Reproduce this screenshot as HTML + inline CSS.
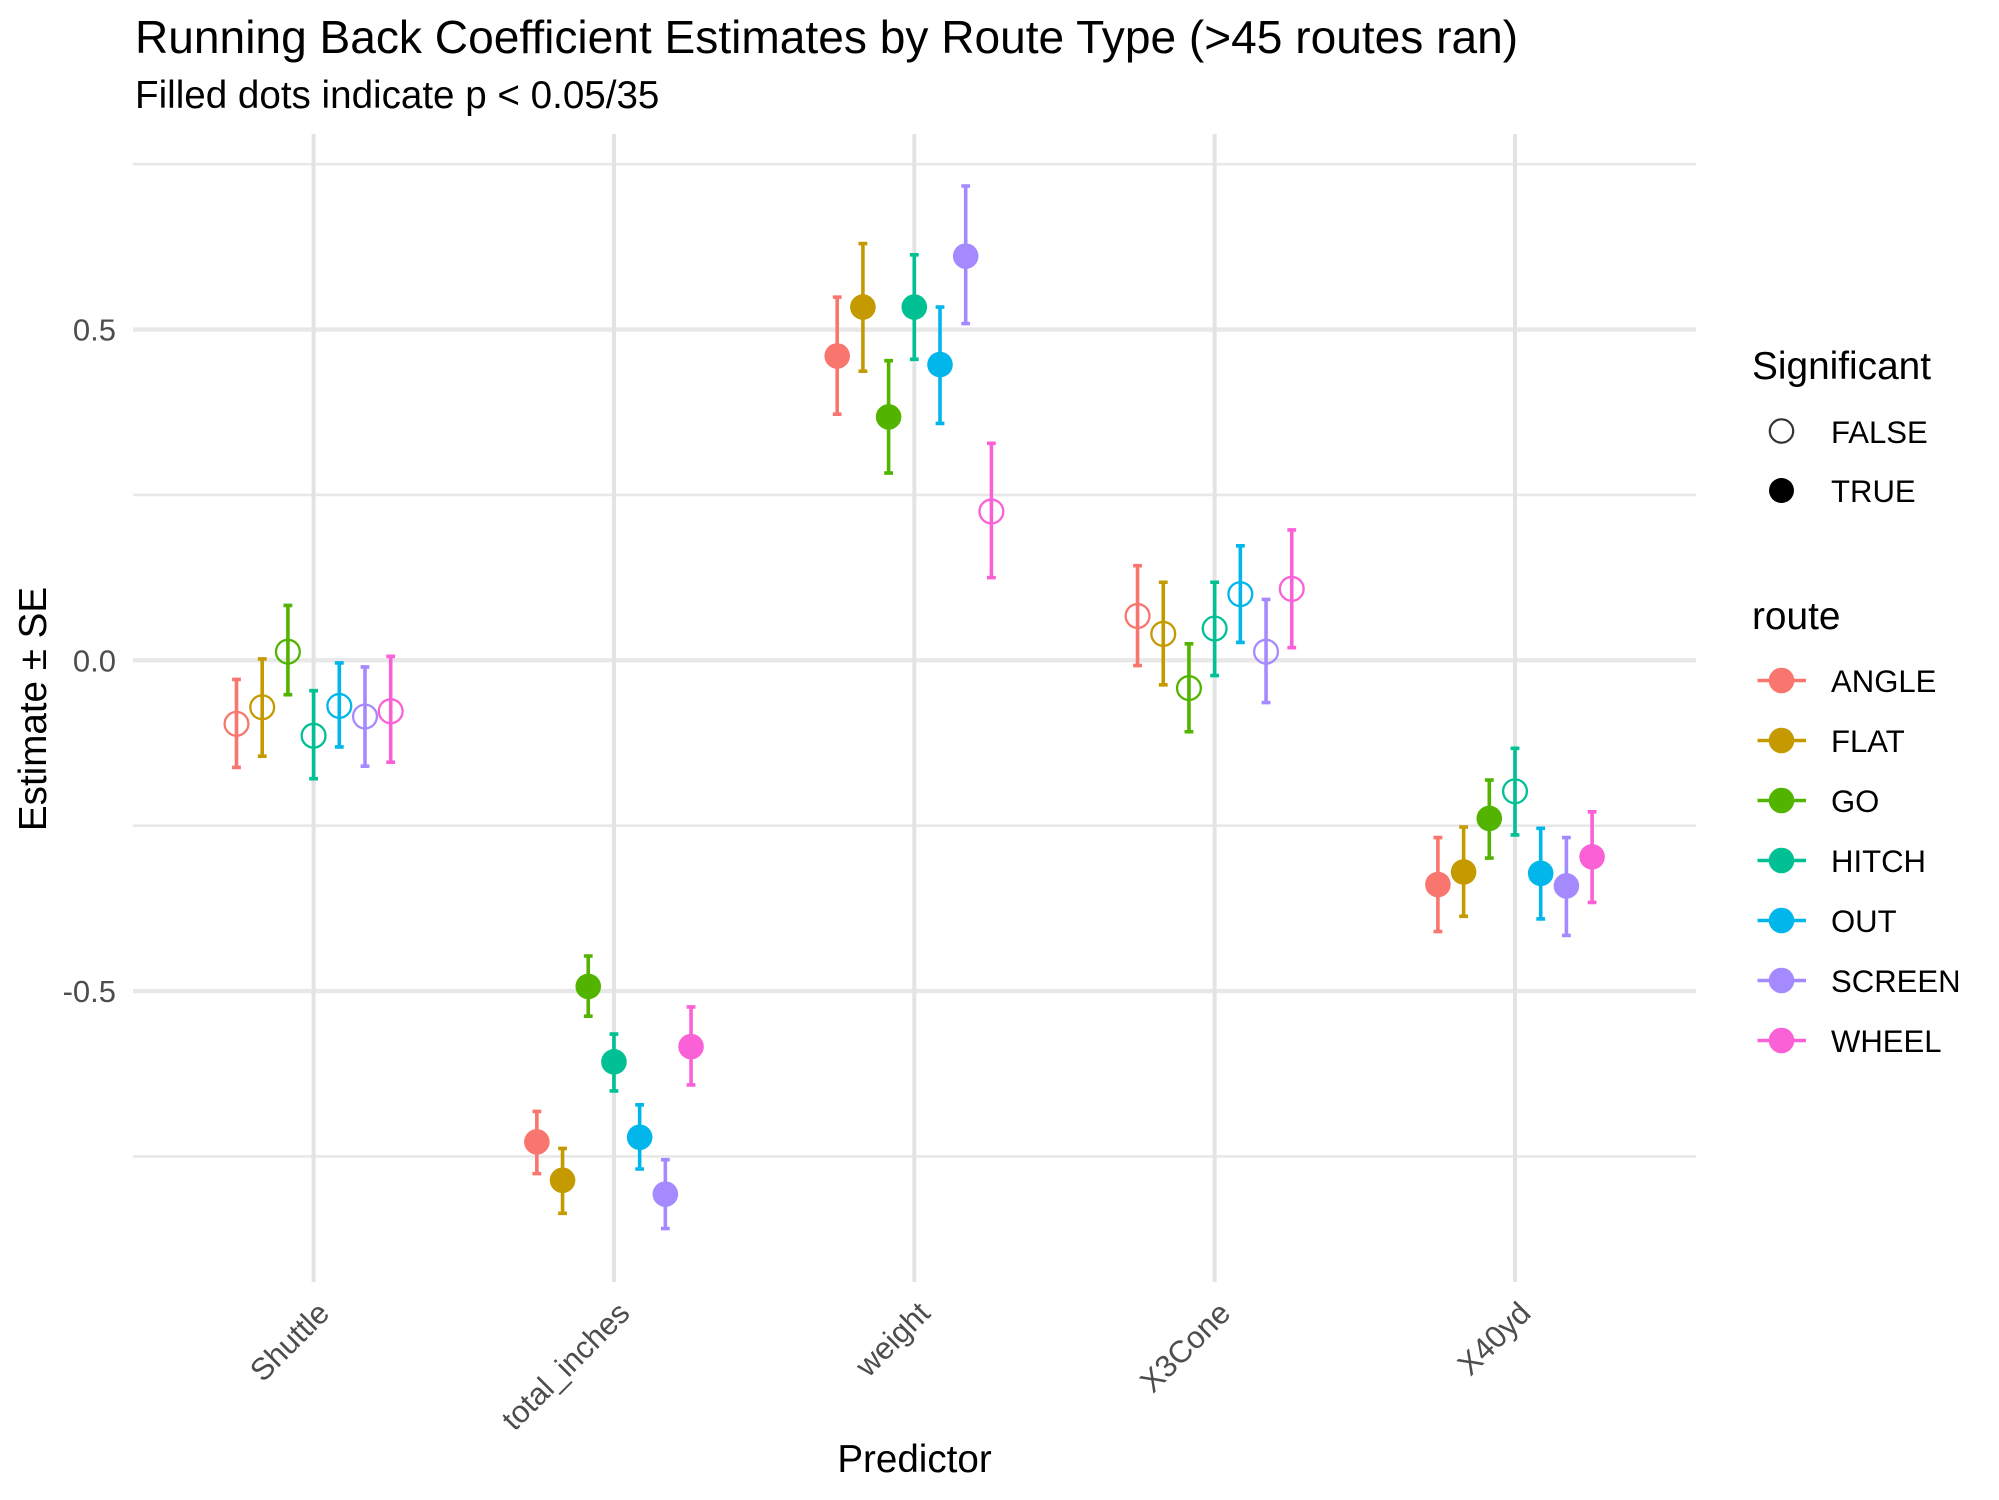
<!DOCTYPE html>
<html lang="en">
<head>
<meta charset="utf-8">
<title>Running Back Coefficient Estimates by Route Type</title>
<style>
  html, body { margin: 0; padding: 0; background: #fff; }
  svg { display: block; font-family: "Liberation Sans", Arial, sans-serif; }
</style>
</head>
<body>
<svg id="chart" xmlns="http://www.w3.org/2000/svg" width="1999" height="1500" viewBox="0 0 1999 1500">
  <rect x="0" y="0" width="1999" height="1500" fill="#ffffff"/>
  <text x="135" y="53" font-size="46.1" fill="#000">Running Back Coefficient Estimates by Route Type (&gt;45 routes ran)</text>
  <text x="135" y="108" font-size="38.6" fill="#000">Filled dots indicate p &lt; 0.05/35</text>
  <g id="grid"></g>
  <g id="yticks"></g>
  <g id="xticks"></g>
  <g id="marks"></g>
  <text transform="translate(46,709) rotate(-90)" text-anchor="middle" font-size="38.6" fill="#000">Estimate ± SE</text>
  <text x="914.5" y="1472" text-anchor="middle" font-size="38.6" fill="#000">Predictor</text>

  <g>
    <text x="1752" y="379" font-size="38.8" fill="#000">Significant</text>
    <circle cx="1781.5" cy="431" r="11.7" fill="none" stroke="#333" stroke-width="2.2"/>
    <text x="1831" y="443" font-size="31.1" fill="#000">FALSE</text>
    <circle cx="1781.5" cy="490.5" r="12.5" fill="#000"/>
    <text x="1831" y="502" font-size="31.1" fill="#000">TRUE</text>
  </g>
  <g id="route-legend">
    <text x="1752" y="629" font-size="38.8" fill="#000">route</text>
  </g>
</svg>
<script>
const predictors = ["Shuttle", "total_inches", "weight", "X3Cone", "X40yd"];
const routes = ["ANGLE", "FLAT", "GO", "HITCH", "OUT", "SCREEN", "WHEEL"];
const routeColors = ["#F8766D", "#C49A00", "#53B400", "#00C094", "#00B6EB", "#A58AFF", "#FB61D7"];
const yMajorTicks = [0.5, 0, -0.5];
const yMajorLabels = ["0.5", "0.0", "-0.5"];
const yMinorTicks = [0.75, 0.25, -0.25, -0.75];

/* One row per predictor, one column per route */
const estimates = [
  [-0.096, -0.071, 0.013, -0.114, -0.069, -0.085, -0.077],
  [-0.728, -0.786, -0.493, -0.607, -0.721, -0.807, -0.584],
  [0.460, 0.534, 0.368, 0.534, 0.447, 0.611, 0.225],
  [0.067, 0.040, -0.042, 0.048, 0.100, 0.013, 0.108],
  [-0.339, -0.320, -0.239, -0.198, -0.322, -0.341, -0.297]
];
const upperBounds = [
  [-0.029, 0.002, 0.083, -0.046, -0.004, -0.010, 0.006],
  [-0.682, -0.738, -0.447, -0.565, -0.672, -0.755, -0.524],
  [0.549, 0.630, 0.453, 0.613, 0.534, 0.717, 0.328],
  [0.143, 0.118, 0.025, 0.118, 0.173, 0.092, 0.197],
  [-0.268, -0.252, -0.181, -0.133, -0.254, -0.268, -0.229]
];
const lowerBounds = [
  [-0.162, -0.145, -0.052, -0.179, -0.131, -0.160, -0.154],
  [-0.776, -0.836, -0.538, -0.651, -0.769, -0.859, -0.642],
  [0.372, 0.437, 0.283, 0.455, 0.358, 0.509, 0.125],
  [-0.008, -0.037, -0.108, -0.023, 0.027, -0.064, 0.019],
  [-0.410, -0.387, -0.299, -0.264, -0.391, -0.416, -0.366]
];
const significant = [
  [false, false, false, false, false, false, false],
  [true, true, true, true, true, true, true],
  [true, true, true, true, true, true, false],
  [false, false, false, false, false, false, false],
  [true, true, true, false, true, true, true]
];

const NS = "http://www.w3.org/2000/svg";
const panelLeft = 133, panelRight = 1696, panelTop = 134, panelBottom = 1282;
const xScale = function (predictorIndex) { return 313.6 + 300.35 * predictorIndex; };
const dodge = function (routeIndex) { return (routeIndex - (routes.length - 1) / 2) * 25.7; };
const yScale = function (v) { return 660.3 - 661.5 * v; };

function make(tag, attrs, parent) {
  const el = document.createElementNS(NS, tag);
  for (const k in attrs) el.setAttribute(k, attrs[k]);
  parent.appendChild(el);
  return el;
}

const grid = document.getElementById("grid");
yMinorTicks.forEach(function (v) {
  const el = make("line", { x1: panelLeft, x2: panelRight, y1: yScale(v), y2: yScale(v), stroke: "#e8e8e8", "stroke-width": 2.6 }, grid);
  
  
});
yMajorTicks.forEach(function (v) {
  const el = make("line", { x1: panelLeft, x2: panelRight, y1: yScale(v), y2: yScale(v), stroke: "#e8e8e8", "stroke-width": 4.4 }, grid);
  
  
});
predictors.forEach(function (p, i) {
  const el = make("line", { x1: xScale(i), x2: xScale(i), y1: panelTop, y2: panelBottom, stroke: "#e3e3e3", "stroke-width": 4 }, grid);
  
  
});

const yTickGroup = document.getElementById("yticks");
yMajorTicks.forEach(function (v, i) {
  const t = make("text", { x: 116, y: yScale(v) + 11, "text-anchor": "end", "font-size": 31, fill: "#4d4d4d" }, yTickGroup);
  t.textContent = yMajorLabels[i];
  
  
});

const xTickGroup = document.getElementById("xticks");
predictors.forEach(function (p, i) {
  const t = make("text", { transform: "translate(" + (xScale(i) + 17.5) + ",1315) rotate(-45)", "text-anchor": "end", "font-size": 31, fill: "#4d4d4d" }, xTickGroup);
  t.textContent = p;
  
  
});

const marks = document.getElementById("marks");
routes.forEach(function (route, r) {
  const color = routeColors[r];
  const group = make("g", {}, marks);
  
  
  predictors.forEach(function (p, i) {
    const x = xScale(i) + dodge(r);
    const yHi = yScale(upperBounds[i][r]);
    const yLo = yScale(lowerBounds[i][r]);
    const yEst = yScale(estimates[i][r]);
    const bar = make("path", {
      d: "M" + (x - 4.4) + " " + yHi + "H" + (x + 4.4) + "M" + x + " " + yHi + "V" + yLo + "M" + (x - 4.4) + " " + yLo + "H" + (x + 4.4),
      stroke: color, "stroke-width": 3.6, fill: "none"
    }, group);
    
    
    const filled = significant[i][r];
    const dot = make("circle", filled
      ? { cx: x, cy: yEst, r: 12.8, fill: color }
      : { cx: x, cy: yEst, r: 11.9, fill: "none", stroke: color, "stroke-width": 2.3 }, group);
    
    
  });
});

const routeLegend = document.getElementById("route-legend");
routes.forEach(function (route, r) {
  const cy = 680.5 + r * 60;
  const line = make("line", { x1: 1757.5, x2: 1806, y1: cy, y2: cy, stroke: routeColors[r], "stroke-width": 3.6 }, routeLegend);
  
  
  const dot = make("circle", { cx: 1781.5, cy: cy, r: 12.8, fill: routeColors[r] }, routeLegend);
  
  
  const label = make("text", { x: 1831, y: cy + 11.5, "font-size": 31.1, fill: "#000" }, routeLegend);
  label.textContent = route;
  
  
});
</script>
</body>
</html>
